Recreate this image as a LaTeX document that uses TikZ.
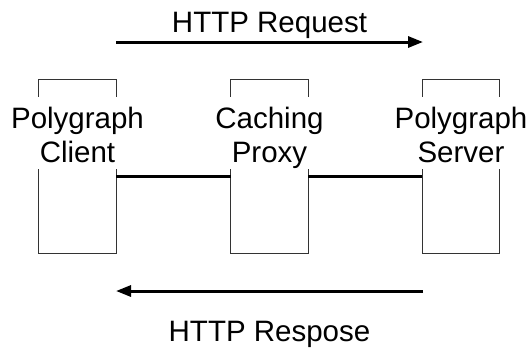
\documentclass[tikz,border=0pt]{standalone}
\usepackage{fontspec}
\setmainfont{Liberation Sans}
\usetikzlibrary{arrows.meta}
\begin{document}
\begin{tikzpicture}[x=1pt,y=-1pt,
  box/.style={minimum width=77pt,minimum height=173pt,inner sep=0pt,draw=none},
  lbl/.style={font=\fontsize{29.5}{34}\selectfont,align=center,inner sep=0pt},
  side/.style={draw=black!80,line width=1.2pt},
  link/.style={line width=3pt},
  msg/.style={line width=3pt,-{Triangle[length=15pt,width=11pt]}}]
\useasboundingbox (0,0) rectangle (529,349);
\node[box] (client) at (77.5,166.5) {};
\node[box] (proxy) at (269.5,166.5) {};
\node[box] (server) at (461,166.5) {};
\foreach \b in {client,proxy,server}{
  \draw[side] (\b.north west) ++(0,17) -- (\b.north west) -- (\b.north east) -- ++(0,17);
  \draw[side] (\b.south west) ++(0,-84) -- (\b.south west) -- (\b.south east) -- ++(0,-84);
}
\node[lbl,anchor=base] (clientt) at (77.5,162) {Polygraph\\Client};
\node[lbl,anchor=base] (proxyt) at (269.5,162) {Caching\\Proxy};
\node[lbl,anchor=base] (servert) at (461,162) {Polygraph\\Server};
\draw[link] ([yshift=-9.5pt]client.east) -- ([yshift=-9.5pt]proxy.west);
\draw[link] ([yshift=-9.5pt]proxy.east) -- ([yshift=-9.5pt]server.west);
\coordinate (reqs) at (116,42);
\coordinate (reqe) at (423,42);
\coordinate (ress) at (423,291);
\coordinate (rese) at (116,291);
\draw[msg] (reqs) -- (reqe);
\draw[msg] (ress) -- (rese);
\node[lbl,anchor=base] (req) at (269.5,32) {HTTP Request};
\node[lbl,anchor=base] (res) at (269.5,341) {HTTP Respose};
\end{tikzpicture}
\end{document}
